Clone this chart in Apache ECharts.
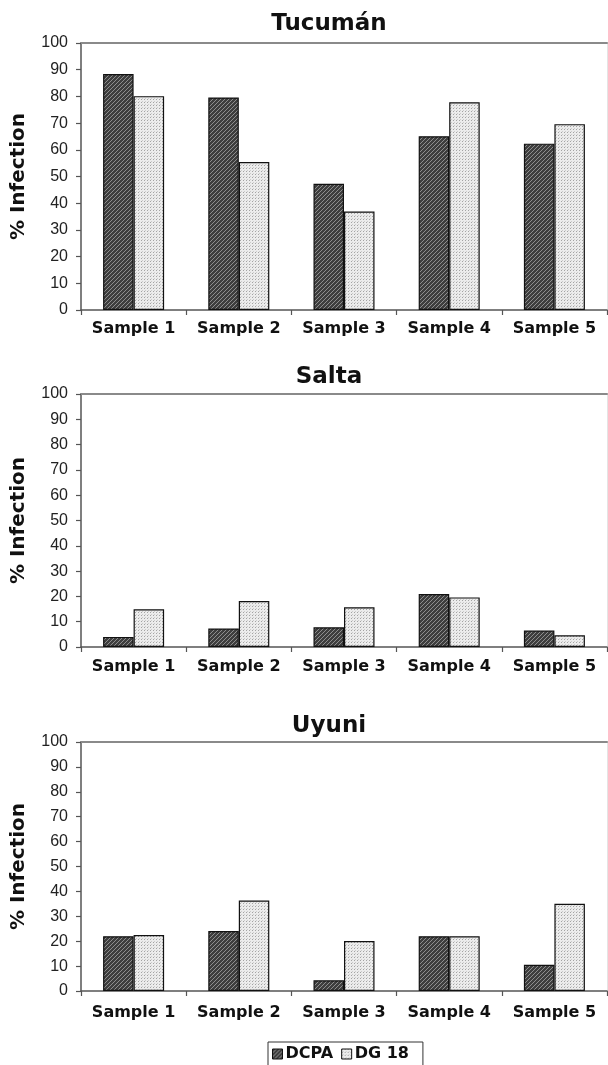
<!DOCTYPE html>
<html>
<head>
<meta charset="utf-8">
<script src="https://cdn.jsdelivr.net/npm/echarts@6/dist/echarts.min.js"></script>
<style>
html,body{margin:0;padding:0;background:#fff;}
#chart{width:608px;height:1065px;}
</style>
</head>
<body>
<div id="chart"></div>
<script>
// ---- data ----
var categories = ['Sample 1', 'Sample 2', 'Sample 3', 'Sample 4', 'Sample 5'];
var panelTitles = ['Tucumán', 'Salta', 'Uyuni'];
var seriesNames = ['DCPA', 'DG 18'];
var tucumanDCPA = [88.4, 79.6, 47.3, 65.1, 62.3];
var tucumanDG18 = [80.1, 55.4, 36.9, 77.8, 69.6];
var saltaDCPA = [4.0, 7.3, 7.8, 20.9, 6.5];
var saltaDG18 = [14.9, 18.2, 15.7, 19.6, 4.6];
var uyuniDCPA = [22.0, 24.1, 4.3, 22.0, 10.5];
var uyuniDG18 = [22.5, 36.3, 20.1, 22.0, 35.0];
var yMin = 0, yMax = 100, yInterval = 10;
var yAxisTitle = '% Infection';

// ---- patterns ----
function hatchPattern() {
  var c = document.createElement('canvas');
  c.width = 4; c.height = 4;
  var g = c.getContext('2d');
  g.fillStyle = '#3e3e3e';
  g.fillRect(0, 0, 4, 4);
  g.fillStyle = '#8e8e8e';
  for (var i = 0; i < 4; i++) {
    g.fillRect(i, 3 - i, 1, 1);
  }
  return c;
}
function dotPattern() {
  var c = document.createElement('canvas');
  c.width = 3; c.height = 3;
  var g = c.getContext('2d');
  g.fillStyle = '#ececec';
  g.fillRect(0, 0, 3, 3);
  g.fillStyle = '#a4a4a4';
  g.fillRect(0, 0, 1, 1);
  g.fillStyle = '#cccccc';
  g.fillRect(1, 2, 1, 1);
  return c;
}
var darkFill = { image: hatchPattern(), repeat: 'repeat' };
var lightFill = { image: dotPattern(), repeat: 'repeat' };

var panels = [
  { data: [tucumanDCPA, tucumanDG18], top: 43, height: 267, titleTop: 8, labelMargin: 11 },
  { data: [saltaDCPA, saltaDG18], top: 394, height: 253, titleTop: 361, labelMargin: 12 },
  { data: [uyuniDCPA, uyuniDG18], top: 742, height: 249, titleTop: 710, labelMargin: 14 }
];

var boldFont = 'DejaVu Sans';
var option = {
  backgroundColor: '#ffffff',
  animation: false,
  title: [],
  grid: [],
  xAxis: [],
  yAxis: [],
  series: [],
  legend: {
    data: seriesNames,
    icon: 'rect',
    left: 268,
    top: 1042,
    orient: 'horizontal',
    itemWidth: 10,
    itemHeight: 10,
    itemGap: 8,
    padding: [4, 14, 4, 4],
    borderColor: '#333',
    borderWidth: 1,
    borderRadius: 0,
    textStyle: { fontFamily: boldFont, fontWeight: 'bold', fontSize: 16, color: '#111', padding: [0, 0, 0, -2] },
    itemStyle: { borderColor: '#111', borderWidth: 1 }
  }
};

panels.forEach(function (p, i) {
  option.title.push({
    text: panelTitles[i],
    left: 324,
    textAlign: 'center',
    top: p.titleTop,
    textStyle: { fontFamily: boldFont, fontWeight: 'bold', fontSize: 23, color: '#111' }
  });
  option.grid.push({ left: 81, right: 1, top: p.top, height: p.height, containLabel: false });
  // bottom category axis
  option.xAxis.push({
    type: 'category',
    gridIndex: i,
    data: categories,
    boundaryGap: true,
    axisLine: { show: true, lineStyle: { color: '#555', width: 1.5 } },
    axisTick: { show: true, alignWithLabel: false, length: 5, lineStyle: { color: '#555', width: 1.2 } },
    axisLabel: { margin: p.labelMargin, fontFamily: boldFont, fontWeight: 'bold', fontSize: 16, color: '#111', interval: 0 },
    splitLine: { show: false }
  });
  // top frame line
  option.xAxis.push({
    type: 'category',
    gridIndex: i,
    position: 'top',
    data: categories,
    axisLine: { show: true, onZero: false, lineStyle: { color: '#8a8a8a', width: 2 } },
    axisTick: { show: false },
    axisLabel: { show: false },
    splitLine: { show: false }
  });
  option.yAxis.push({
    type: 'value',
    gridIndex: i,
    min: yMin,
    max: yMax,
    interval: yInterval,
    name: yAxisTitle,
    nameLocation: 'middle',
    nameGap: 52,
    nameTextStyle: { fontFamily: boldFont, fontWeight: 'bold', fontSize: 20, color: '#111' },
    axisLine: { show: true, onZero: false, lineStyle: { color: '#555', width: 1.5 } },
    axisTick: { show: true, length: 5, lineStyle: { color: '#555', width: 1.2 } },
    axisLabel: { margin: 13, fontFamily: 'Liberation Sans', fontSize: 16, color: '#222' },
    splitLine: { show: false }
  });
  // right frame line
  option.yAxis.push({
    type: 'value',
    gridIndex: i,
    position: 'right',
    min: yMin,
    max: yMax,
    interval: yInterval,
    axisLine: { show: true, onZero: false, lineStyle: { color: '#e4e4e4', width: 1 } },
    axisTick: { show: false },
    axisLabel: { show: false },
    splitLine: { show: false }
  });
  var fills = [darkFill, lightFill];
  seriesNames.forEach(function (name, s) {
    option.series.push({
      type: 'bar',
      name: name,
      xAxisIndex: i * 2,
      yAxisIndex: i * 2,
      data: p.data[s],
      barGap: '0%',
      barCategoryGap: '42%',
      itemStyle: { color: fills[s], borderColor: '#111', borderWidth: 1.2 },
      emphasis: { disabled: true }
    });
  });
});

var chart = echarts.init(document.getElementById('chart'), null, { renderer: 'canvas' });
chart.setOption(option);
</script>
</body>
</html>
